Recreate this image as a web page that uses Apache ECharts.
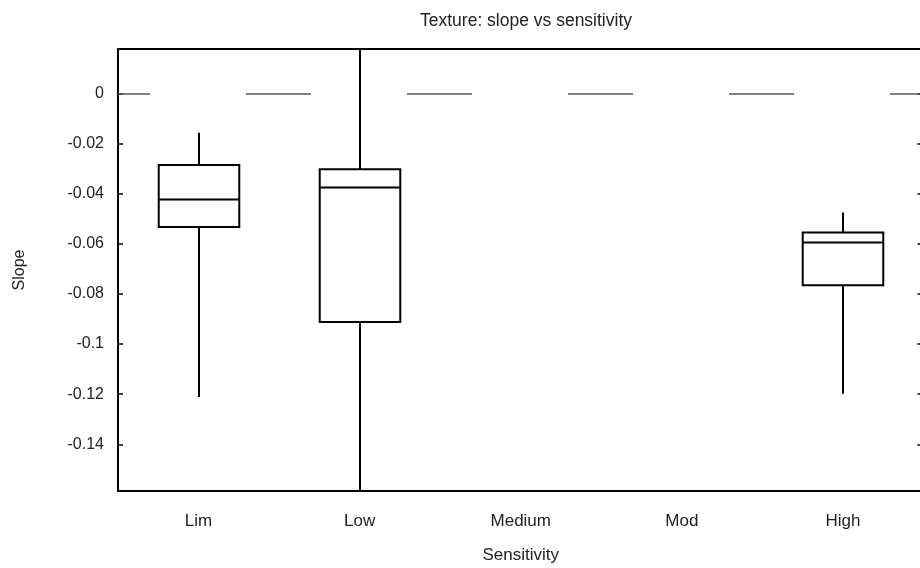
<!DOCTYPE html>
<html>
<head>
<meta charset="utf-8">
<script src="https://cdn.jsdelivr.net/npm/echarts@6/dist/echarts.min.js"></script>
<style>
  html, body { margin: 0; padding: 0; background: #fff; }
  #chart { width: 920px; height: 568px; }
</style>
</head>
<body>
<div id="chart"></div>
<script>
// categories along the x axis
const categories = ['Lim', 'Low', 'Medium', 'Mod', 'High'];
// box statistics per category (null = no box drawn)
const whiskerLow  = [-0.1211, -0.1586, null, null, -0.1198];
const q1          = [-0.0533, -0.0912, null, null, -0.0765];
const median      = [-0.0423, -0.0375, null, null, -0.0595];
const q3          = [-0.0286, -0.0303, null, null, -0.0555];
const whiskerHigh = [-0.0157,  0.0177, null, null, -0.0475];
// y tick labels
const yTicks = [0, -0.02, -0.04, -0.06, -0.08, -0.1, -0.12, -0.14];
const yMin = -0.1586;
const yMax = 0.0177;

const boxData = [];
categories.forEach(function (c, i) {
  if (median[i] === null) return;
  boxData.push([i, whiskerLow[i], q1[i], median[i], q3[i], whiskerHigh[i]]);
});

const font = "'Liberation Sans', Arial, sans-serif";
const ink = '#000';
const textColor = '#222';

function renderBox(params, api) {
  const i = api.value(0);
  const half = api.size([1, 0])[0] * 0.25;
  const lo = api.coord([i, api.value(1)]);
  const b1 = api.coord([i, api.value(2)]);
  const md = api.coord([i, api.value(3)]);
  const b3 = api.coord([i, api.value(4)]);
  const hi = api.coord([i, api.value(5)]);
  const x = Math.round(lo[0]);
  const st = { stroke: ink, lineWidth: 2, fill: null };
  return {
    type: 'group',
    children: [
      { type: 'line', shape: { x1: x, y1: hi[1], x2: x, y2: b3[1] }, style: st },
      { type: 'line', shape: { x1: x, y1: b1[1], x2: x, y2: lo[1] }, style: st },
      { type: 'rect', shape: { x: x - half, y: b3[1], width: half * 2, height: b1[1] - b3[1] },
        style: { stroke: ink, lineWidth: 2, fill: '#fff' } },
      { type: 'line', shape: { x1: x - half, y1: md[1], x2: x + half, y2: md[1] }, style: st }
    ]
  };
}

const chart = echarts.init(document.getElementById('chart'));
chart.setOption({
  animation: false,
  backgroundColor: '#fff',
  textStyle: { fontFamily: font },
  title: {
    text: 'Texture: slope vs sensitivity',
    left: 521,
    top: 7,
    textAlign: 'center',
    textStyle: { fontFamily: font, fontSize: 17.5, fontWeight: 'normal', color: textColor }
  },
  // the frame runs just past the right edge of the picture
  grid: { left: 118, top: 49, width: 805.5, height: 442, outerBoundsMode: 'none' },
  xAxis: [
    {
      type: 'category',
      position: 'bottom',
      data: categories,
      boundaryGap: true,
      axisLine: { onZero: false, lineStyle: { color: ink, width: 2 } },
      axisTick: { alignWithLabel: true, inside: true, length: 5, lineStyle: { color: ink, width: 1.5 } },
      axisLabel: { fontSize: 17, color: textColor, margin: 22, fontFamily: font },
      splitLine: { show: false },
      name: 'Sensitivity',
      nameLocation: 'middle',
      nameGap: 56,
      nameTextStyle: { fontSize: 17, color: textColor, fontFamily: font }
    },
    {
      type: 'category',
      position: 'top',
      data: categories,
      boundaryGap: true,
      axisLine: { onZero: false, lineStyle: { color: ink, width: 2 } },
      axisTick: { alignWithLabel: true, inside: true, length: 5, lineStyle: { color: ink, width: 1.5 } },
      axisLabel: { show: false },
      splitLine: { show: false }
    }
  ],
  yAxis: [
    {
      type: 'value',
      position: 'left',
      min: yMin,
      max: yMax,
      axisLine: { show: true, onZero: false, lineStyle: { color: ink, width: 2 } },
      axisTick: { show: true, inside: true, length: 5, customValues: yTicks, lineStyle: { color: ink, width: 1.5 } },
      axisLabel: { fontSize: 16, color: textColor, margin: 14, fontFamily: font, customValues: yTicks,
        formatter: function (v) { return String(Math.round(v * 100) / 100); } },
      splitLine: { show: false },
      name: 'Slope',
      nameLocation: 'middle',
      nameGap: 90,
      nameTextStyle: { fontSize: 16, color: textColor, fontFamily: font }
    },
    {
      type: 'value',
      position: 'right',
      min: yMin,
      max: yMax,
      axisLine: { show: true, onZero: false, lineStyle: { color: ink, width: 2 } },
      axisTick: { show: true, inside: true, length: 6, customValues: yTicks, lineStyle: { color: ink, width: 1.5 } },
      axisLabel: { show: false },
      splitLine: { show: false }
    }
  ],
  series: [
    {
      type: 'custom',
      xAxisIndex: 0,
      yAxisIndex: 0,
      renderItem: renderBox,
      encode: { x: 0, y: [1, 2, 3, 4, 5] },
      data: boxData,
      z: 3,
      markLine: {
        silent: true,
        symbol: 'none',
        label: { show: false },
        lineStyle: { color: '#555', width: 1.5, type: [65, 96], dashOffset: 33 },
        data: [{ yAxis: 0 }]
      }
    }
  ]
});
</script>
</body>
</html>
